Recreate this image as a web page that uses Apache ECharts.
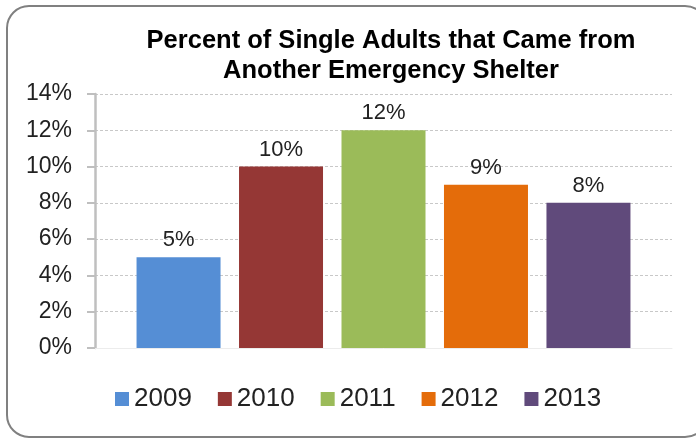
<!DOCTYPE html>
<html>
<head>
<meta charset="utf-8">
<title>Percent of Single Adults that Came from Another Emergency Shelter</title>
<script src="https://cdn.jsdelivr.net/npm/echarts@6/dist/echarts.min.js"></script>
<style>
  html, body { margin: 0; padding: 0; background: #ffffff; }
  #chart { width: 696px; height: 438px; }
</style>
</head>
<body>
<div id="chart"></div>
<script>
// Share of single adults whose prior residence was another emergency shelter, by year
const years = ['2009', '2010', '2011', '2012', '2013'];
const percents = [5, 10, 12, 9, 8];
const barColors = ['#558ed5', '#953735', '#9bbb59', '#e46c0a', '#604a7b'];
const yTicks = [0, 2, 4, 6, 8, 10, 12, 14];

const FONT = '"Liberation Sans", Arial, Helvetica, sans-serif';

const chart = echarts.init(document.getElementById('chart'), null, { renderer: 'canvas' });

const series = years.map((yr, i) => ({
  name: yr,
  type: 'bar',
  data: [percents[i]],
  barWidth: 84,
  barGap: '22%',
  itemStyle: { color: barColors[i] },
  label: {
    show: true,
    position: 'top',
    distance: 6,
    formatter: p => p.value + '%',
    fontFamily: FONT,
    fontSize: 22,
    color: '#222222'
  }
}));

chart.setOption({
  animation: false,
  backgroundColor: '#ffffff',
  graphic: [{
    type: 'rect',
    shape: { x: 7, y: 6, width: 700, height: 431, r: 22 },
    style: { fill: null, stroke: '#808080', lineWidth: 2 },
    silent: true,
    z: 0
  }],
  title: {
    text: 'Percent of Single Adults that Came from\nAnother Emergency Shelter',
    left: 386,
    top: 21,
    textAlign: 'center',
    textStyle: {
      fontFamily: FONT,
      fontWeight: 'bold',
      fontSize: 25.5,
      lineHeight: 30,
      color: '#000000'
    }
  },
  legend: {
    data: years,
    left: 110,
    top: 381,
    itemWidth: 14,
    itemHeight: 14,
    itemGap: 26,
    icon: 'rect',
    textStyle: { fontFamily: FONT, fontSize: 26, color: '#222222' }
  },
  grid: { left: 95, right: 24, top: 94, bottom: 90, containLabel: false },
  xAxis: {
    type: 'category',
    data: [''],
    axisLine: { show: true, lineStyle: { color: '#ececec', width: 1 } },
    axisTick: { show: false },
    axisLabel: { show: false }
  },
  yAxis: {
    type: 'value',
    min: yTicks[0],
    max: yTicks[yTicks.length - 1],
    interval: 2,
    axisLine: { show: true, lineStyle: { color: '#bfbfbf', width: 2.5 } },
    axisTick: { show: true, length: 8, lineStyle: { color: '#bfbfbf', width: 2 } },
    axisLabel: {
      formatter: v => v + '%',
      fontFamily: FONT,
      fontSize: 23,
      color: '#222222',
      margin: 23
    },
    splitLine: { show: true, lineStyle: { color: '#c8c8c8', type: [3, 2], width: 1 } }
  },
  series: series
});
</script>
</body>
</html>
